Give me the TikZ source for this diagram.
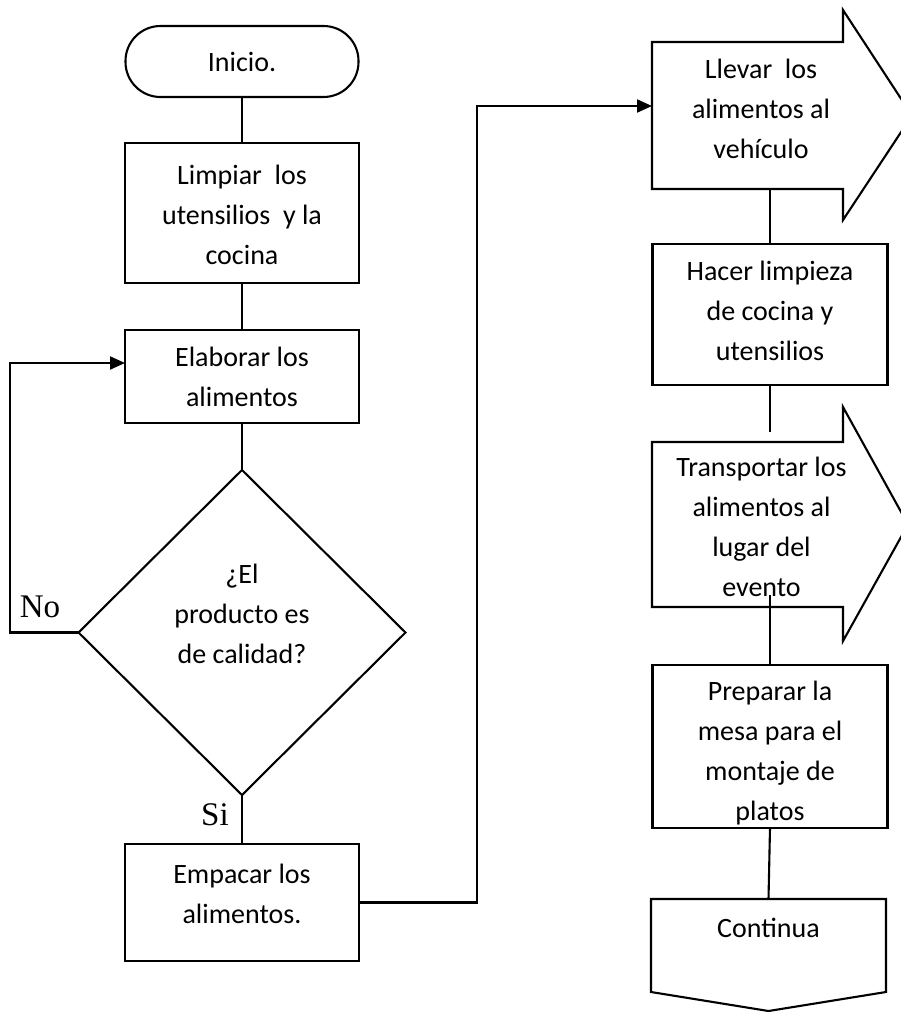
\documentclass[tikz,border=0pt]{standalone}
\usepackage{fontspec}
\setmainfont{Carlito}
\newfontfamily\etiqfont{Liberation Serif}
\usetikzlibrary{arrows.meta, shapes.geometric, calc}

\begin{document}
\begin{tikzpicture}[
  x=1pt, y=-1pt,
  every node/.style={font={\fontsize{28}{40}\selectfont}, inner sep=0pt, outer sep=0pt},
  caja/.style={draw, line width=2.1pt, minimum width=234pt},
  marco/.style={minimum width=191pt},
  texto/.style={align=center},
  linea/.style={line width=2.1pt},
  etiq/.style={font={\etiqfont\fontsize{33}{36}\selectfont}, anchor=base},
  >={Triangle[length=15pt,width=13pt]}
]
\useasboundingbox (0,0) rectangle (900,1012);

% Left column
\node[caja, rounded corners=35pt, minimum width=233pt, minimum height=71pt]
  (inicio) at (242, 61.5) {};
\node[anchor=base] (t_inicio) at (242, 71) {Inicio.};

\node[caja, minimum height=140pt] (limpiar) at (242, 213) {};
\node[texto] (t_limpiar) at (242, 214.5)
  {Limpiar\ \ los\\utensilios\ \ y la\\cocina};

\node[caja, minimum height=93pt] (elaborar) at (242, 376.5) {};
\node[texto] (t_elaborar) at (242, 377) {Elaborar los\\alimentos};

\node[draw, diamond, line width=2.1pt, minimum width=327pt, minimum height=325pt]
  (calidad) at (242, 632.5) {};
\node[texto] (t_calidad) at (242, 614) {¿El\\producto es\\de calidad?};

\node[caja, minimum height=117pt] (empacar) at (242, 902.5) {};
\node[texto] (t_empacar) at (242, 894) {Empacar los\\alimentos.};

\node[etiq] (no) at (40, 617) {No};
\node[etiq] (si) at (215, 825) {Si};

% Right column
\node[marco, minimum height=147pt] (llevar) at (747.5, 115.5) {};
\draw[linea] (llevar.north west) -- (llevar.north east) -- ++(0,-32)
  -- (912, 115.5) -- ($(llevar.south east)+(0,31)$) -- (llevar.south east)
  -- (llevar.south west) -- cycle;
\node[texto] (t_llevar) at (761, 109) {Llevar\ \ los\\alimentos al\\vehículo};

\node[caja, minimum width=235pt, minimum height=141pt] (hacer) at (770, 314.5) {};
\node[texto] (t_hacer) at (770, 311) {Hacer limpieza\\de cocina y\\utensilios};

\node[marco, minimum height=165pt] (transportar) at (747.5, 524.5) {};
\draw[linea] (transportar.north west) -- (transportar.north east) -- ++(0,-35)
  -- (908, 524.5) -- ($(transportar.south east)+(0,34)$) -- (transportar.south east)
  -- (transportar.south west) -- cycle;
\node[texto] (t_transportar) at (761.5, 527)
  {Transportar los\\alimentos al\\lugar del\\evento};

\node[caja, minimum width=235pt, minimum height=163pt] (preparar) at (770, 746.5) {};
\node[texto] (t_preparar) at (770, 753) {Preparar la\\mesa para el\\montaje de\\platos};

% Off-page connector
\node[minimum width=235pt, minimum height=93pt] (continua) at (768.5, 945.5) {};
\draw[linea] (continua.south west) -- (continua.north west) -- (continua.north east)
  -- (continua.south east) -- (768.5, 1011) -- cycle;
\node[anchor=base] (t_continua) at (768.5, 937) {Continua};

% Connectors
\draw[linea] (inicio.south) -- (limpiar.north);
\draw[linea] (limpiar.south) -- (elaborar.north);
\draw[linea] (elaborar.south) -- (calidad.north);
\draw[linea] (calidad.south) -- (empacar.north);

\coordinate (retorno) at (10, 363);
\draw[linea, ->] (calidad.west) -| (retorno) -- (retorno -| elaborar.west);

\coordinate (codo) at (477, 106);
\draw[linea, ->] (empacar.east) -| (codo) -- (codo -| llevar.west);

\draw[linea] (hacer.north |- llevar.south) -- (hacer.north);
\coordinate (t_entrada) at (770, 432);
\draw[linea] (hacer.south) -- (t_entrada);
\coordinate (t_salida) at (770, 595);
\draw[linea] (t_salida) -- (preparar.north);
\draw[linea] (preparar.south) -- (continua.north);

\end{tikzpicture}
\end{document}
